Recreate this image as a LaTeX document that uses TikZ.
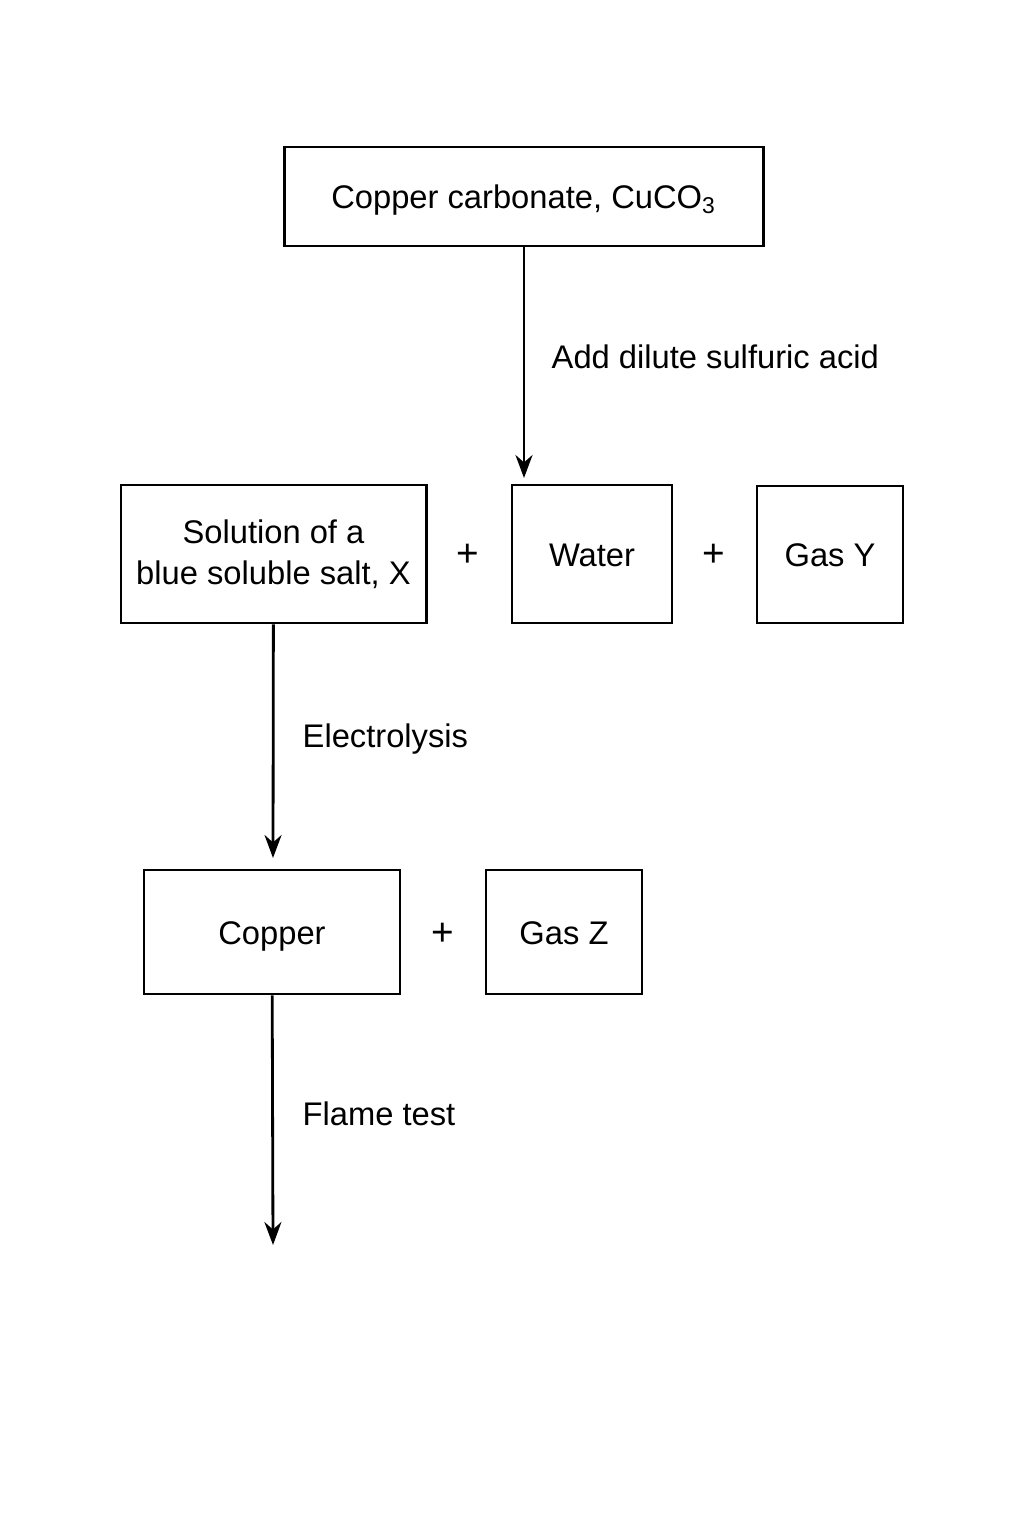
\documentclass[tikz,border=0pt]{standalone}
\usepackage{fontspec}
\setmainfont{Liberation Sans}
\usetikzlibrary{arrows.meta}

\tikzset{
  chembox/.style={draw, line width=0.8pt, align=center, inner sep=0pt},
  oneline/.style={text height=1.75ex, text depth=0.45ex},
  flow/.style={line width=0.8pt, -{Stealth[length=2.3mm, width=1.7mm]}},
  steplabel/.style={anchor=west, inner sep=0pt},
  plus/.style={inner sep=0pt, font=\fontsize{11}{13}\selectfont}
}

\begin{document}
\begin{tikzpicture}[x=0.01cm, y=-0.01cm, font=\fontsize{9.3}{11.6}\selectfont]
\useasboundingbox (0,0) rectangle (1024,1536);
% reactants
\node[chembox, oneline, minimum width=4.78cm, minimum height=0.99cm] (cuco3) at (524,196.5) {Copper carbonate, CuCO\textsubscript{3}};
\coordinate (endA) at (524,478);
\draw[flow] (cuco3) -- (endA);
\node[steplabel] (acid) at (551,357) {Add dilute sulfuric acid};
% products of acid
\node[chembox, minimum width=3.05cm, minimum height=1.38cm] (saltx) at (273.5,554) {Solution of a\\blue soluble salt, X};
\node[plus] (plusA) at (468,555) {+};
\node[chembox, oneline, minimum width=1.60cm, minimum height=1.38cm] (water) at (592,554) {Water};
\node[plus] (plusB) at (714,555) {+};
\node[chembox, oneline, minimum width=1.46cm, minimum height=1.37cm] (gasy) at (830,554.5) {Gas Y};
% electrolysis
\coordinate (endB) at (273,858);
\draw[flow] (saltx) -- (endB);
\node[steplabel] (elec) at (302,739) {Electrolysis};
\node[chembox, oneline, minimum width=2.56cm, minimum height=1.24cm] (copper) at (272,932) {Copper};
\node[plus] (plusC) at (443,934) {+};
\node[chembox, oneline, minimum width=1.56cm, minimum height=1.24cm] (gasz) at (564,932) {Gas Z};
% flame test
\coordinate (endC) at (273,1245);
\draw[flow] (copper) -- (endC);
\node[steplabel] (flame) at (302,1114) {Flame test};
\end{tikzpicture}
\end{document}
